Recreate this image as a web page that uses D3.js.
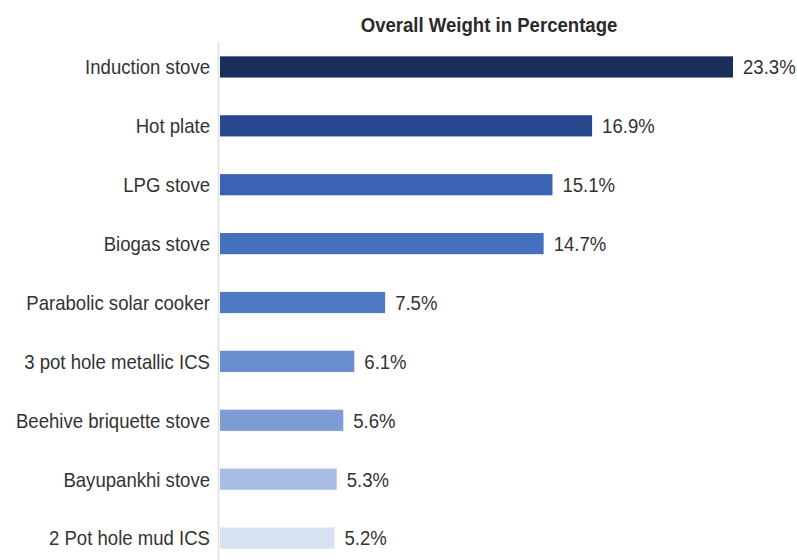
<!DOCTYPE html>
<html>
<head>
<meta charset="utf-8">
<script src="https://cdn.jsdelivr.net/npm/d3@7"></script>
<style>
  html, body { margin: 0; padding: 0; background: #fff; }
  svg { display: block; }
  text { font-family: "Liberation Sans", Arial, sans-serif; }
</style>
</head>
<body>
<svg id="chart" width="797" height="560"></svg>
<script>
const categories = ["Induction stove", "Hot plate", "LPG stove", "Biogas stove", "Parabolic solar cooker", "3 pot hole metallic ICS", "Beehive briquette stove", "Bayupankhi stove", "2 Pot hole mud ICS"];
const values = [23.3, 16.9, 15.1, 14.7, 7.5, 6.1, 5.6, 5.3, 5.2];
const valueLabels = ["23.3%", "16.9%", "15.1%", "14.7%", "7.5%", "6.1%", "5.6%", "5.3%", "5.2%"];
const colors = ["#1b2d5b", "#28478e", "#3a63b4", "#4470be", "#5079c3", "#6a8ecf", "#7d9cd5", "#a8bde2", "#d8e1f2"];
const title = "Overall Weight in Percentage";

const sx = 0.885; // horizontal condensing to mimic a narrow typeface
const svg = d3.select("#chart");
const x = d3.scaleLinear().domain([0, 23.3]).range([220, 733]);
const y = d3.scaleBand().domain(categories).range([37.5, 567.5]).paddingInner(0.64).paddingOuter(0.32);

svg.append("g")
  .attr("transform", `translate(489,32) scale(${sx},1)`)
  .append("text")
  .attr("text-anchor", "middle")
  .attr("font-size", 21).attr("font-weight", "bold")
  .attr("fill", "#2a2a2a")
  .text(title);

svg.append("line")
  .attr("x1", 218.5).attr("x2", 218.5)
  .attr("y1", 42).attr("y2", 560)
  .attr("stroke", "#dedede").attr("stroke-width", 1.5);

svg.selectAll("rect.bar").data(categories).enter().append("rect")
  .attr("class", "bar")
  .attr("x", x(0))
  .attr("y", d => y(d))
  .attr("width", (d, i) => x(values[i]) - x(0))
  .attr("height", y.bandwidth())
  .attr("fill", (d, i) => colors[i]);

svg.selectAll("g.cat").data(categories).enter().append("g")
  .attr("class", "cat")
  .attr("transform", d => `translate(210,${y(d) + y.bandwidth() / 2}) scale(${sx},1)`)
  .append("text")
  .attr("dy", "0.35em")
  .attr("text-anchor", "end")
  .attr("font-size", 21)
  .attr("fill", "#333")
  .text(d => d);

svg.selectAll("g.val").data(categories).enter().append("g")
  .attr("class", "val")
  .attr("transform", (d, i) => `translate(${x(values[i]) + 10},${y(d) + y.bandwidth() / 2}) scale(${sx},1)`)
  .append("text")
  .attr("dy", "0.35em")
  .attr("font-size", 21)
  .attr("fill", "#333")
  .text((d, i) => valueLabels[i]);
</script>
</body>
</html>
